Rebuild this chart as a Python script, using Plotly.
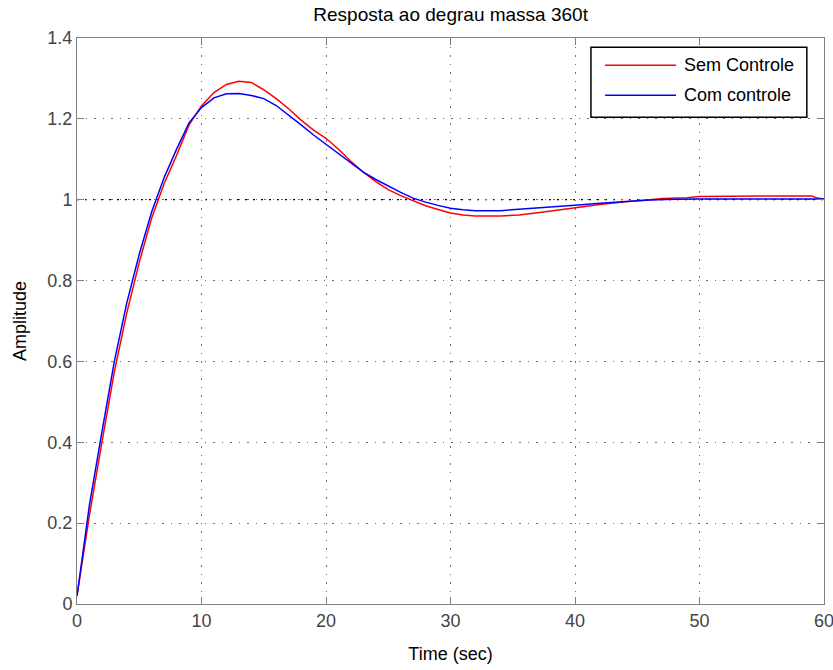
import plotly.graph_objects as go

t_sem = [0, 1, 2, 3, 4, 5, 6, 7, 8, 9, 10, 11, 12, 13, 14, 15, 16, 17, 18, 19, 20,
         21, 22, 23, 24, 25, 26, 27, 28, 29, 30, 31, 32, 34, 35.5, 37, 39, 40.5, 42,
         44, 46, 47, 49, 50, 55, 59, 59.5, 60]
y_sem = [0.02, 0.22, 0.40, 0.575, 0.72, 0.845, 0.955, 1.04, 1.11, 1.185, 1.232, 1.265, 1.285,
         1.293, 1.290, 1.272, 1.250, 1.225, 1.197, 1.172, 1.152, 1.125, 1.095, 1.068,
         1.045, 1.025, 1.010, 0.997, 0.985, 0.976, 0.967, 0.962, 0.960, 0.960, 0.962,
         0.968, 0.975, 0.982, 0.988, 0.995, 1.000, 1.003, 1.005, 1.008, 1.009, 1.009,
         1.004, 1.002]

t_com = [0, 1, 2, 3, 4, 5, 6, 7, 8, 9, 10, 11, 12, 13, 14, 15, 16, 17, 18, 19, 20,
         21, 22, 23, 24, 25, 26, 27, 28, 29, 30, 31, 32, 34, 36, 38, 40, 42, 44, 46,
         48, 50, 55, 60]
y_com = [0.02, 0.245, 0.425, 0.60, 0.745, 0.865, 0.97, 1.055, 1.125, 1.19, 1.228, 1.252, 1.262,
         1.263, 1.258, 1.250, 1.233, 1.210, 1.185, 1.160, 1.137, 1.113, 1.090, 1.068,
         1.050, 1.033, 1.018, 1.004, 0.994, 0.986, 0.979, 0.975, 0.973, 0.973, 0.977,
         0.982, 0.986, 0.991, 0.995, 0.999, 1.001, 1.002, 1.002, 1.002]

series_names = ["Sem Controle", "Com controle"]
series_colors = ["#ff0000", "#0000ff"]

x_ticks = [0, 10, 20, 30, 40, 50, 60]
y_ticks = [0, 0.2, 0.4, 0.6, 0.8, 1, 1.2, 1.4]
y_tick_text = ["0", "0.2", "0.4", "0.6", "0.8", "1", "1.2", "1.4"]
final_value = 1.0

FONT = "Liberation Sans, Arial, sans-serif"
FS = 18

fig = go.Figure()
for t, y, name, color in zip([t_sem, t_com], [y_sem, y_com], series_names, series_colors):
    fig.add_trace(go.Scatter(x=t, y=y, mode="lines", name=name, showlegend=False,
                             line=dict(color=color, width=1.5)))

# steady-state reference line (MATLAB step plot)
fig.add_hline(y=final_value, line=dict(color="#000000", width=1.3, dash="2px,6px"), layer="below")

axis_common = dict(
    showline=True, linecolor="#7f7f7f", linewidth=1, mirror="ticks",
    ticks="inside", ticklen=7, tickcolor="#7f7f7f",
    showgrid=True, gridcolor="#6f6f6f", griddash="1.5px,7px", gridwidth=1,
    zeroline=False, tickfont=dict(size=FS, color="#444444"),
    ticklabeloverflow="allow", automargin=False,
)

fig.update_xaxes(range=[0, 60], tickvals=x_ticks,
                 title=dict(text="Time (sec)", font=dict(size=FS, color="#000000"), standoff=17),
                 **axis_common)
fig.update_yaxes(range=[0, 1.4], tickvals=y_ticks, ticktext=y_tick_text,
                 title=dict(text="Amplitude", font=dict(size=FS, color="#000000"), standoff=16),
                 **axis_common)

# legend box drawn in MATLAB style
lg_x0, lg_x1, lg_y0, lg_y1 = 0.688, 0.977, 0.860, 0.9836
line_x0, line_x1, text_x = 0.707, 0.802, 0.810
row_y = [0.952, 0.899]
fig.add_shape(type="rect", xref="paper", yref="paper", x0=lg_x0, x1=lg_x1, y0=lg_y0, y1=lg_y1,
              line=dict(color="#000000", width=1.5), fillcolor="white", layer="above")
for ry, name, color in zip(row_y, series_names, series_colors):
    fig.add_shape(type="line", xref="paper", yref="paper", x0=line_x0, x1=line_x1, y0=ry, y1=ry,
                  line=dict(color=color, width=1.5), layer="above")
    fig.add_annotation(xref="paper", yref="paper", x=text_x, y=ry, text=name, showarrow=False,
                       xanchor="left", yanchor="middle",
                       font=dict(size=FS, color="#000000", family=FONT))

fig.update_layout(
    width=833, height=670,
    margin=dict(l=77, r=9, t=38, b=66),
    paper_bgcolor="white", plot_bgcolor="white",
    font=dict(family=FONT, size=FS, color="#000000"),
    title=dict(text="Resposta ao degrau massa 360t", x=0.541, xanchor="center",
               yref="container", y=1 - 14 / 670, yanchor="middle",
               font=dict(size=19, color="#000000")),
    showlegend=False,
)

fig.write_html("out.html")
